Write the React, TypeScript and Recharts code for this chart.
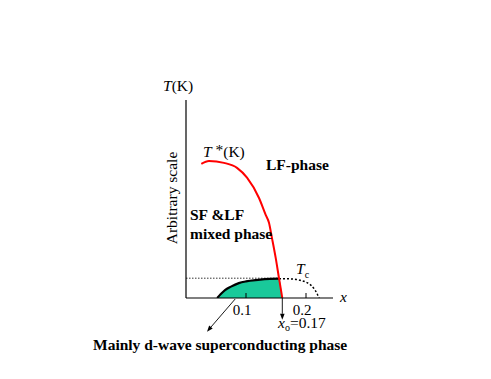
import { ComposedChart, XAxis, YAxis, Line, Area, ReferenceLine } from 'recharts';

// phase diagram: doping x vs temperature (arbitrary scale)
const xTicks = [0.1, 0.2];
const yTicks = [1, 2, 3, 4];

const pseudogap = [
  { x: 0.0255, y: 2.71 },
  { x: 0.0383, y: 2.77 },
  { x: 0.0633, y: 2.73 },
  { x: 0.085, y: 2.63 },
  { x: 0.1017, y: 2.43 },
  { x: 0.1217, y: 2.02 },
  { x: 0.1328, y: 1.68 },
  { x: 0.1383, y: 1.52 },
  { x: 0.1433, y: 1.21 },
  { x: 0.1495, y: 0.81 },
  { x: 0.155, y: 0.4 },
  { x: 0.1605, y: 0 },
];

const tcSolid = [
  { x: 0.052, y: 0 },
  { x: 0.058, y: 0.08 },
  { x: 0.065, y: 0.16 },
  { x: 0.075, y: 0.23 },
  { x: 0.088, y: 0.3 },
  { x: 0.1, y: 0.335 },
  { x: 0.12, y: 0.365 },
  { x: 0.14, y: 0.385 },
  { x: 0.155, y: 0.39 },
];

const scRegion = [...tcSolid, { x: 0.1605, y: 0 }];

const tcDotted = [
  { x: 0.155, y: 0.39 },
  { x: 0.175, y: 0.385 },
  { x: 0.19, y: 0.36 },
  { x: 0.2, y: 0.32 },
  { x: 0.208, y: 0.26 },
  { x: 0.215, y: 0.16 },
  { x: 0.222, y: 0 },
];

const tcLevel = 0.4;
const xo = 0.1605;

const serif = '"Liberation Serif", "Times New Roman", serif';

const XTick = (props: any) => {
  const { x, y, payload } = props;
  return (
    <g>
      <line x1={x} x2={x} y1={y - 8} y2={y - 13} stroke="#000" strokeWidth={1} />
      <text x={x - 4} y={y + 9} textAnchor="middle" fontFamily={serif} fontSize={15} fill="#000">
        {payload.value}
      </text>
    </g>
  );
};

const Arrow = (p: any) => {
  const { x1, y1, x2, y2 } = p;
  const a = Math.atan2(y2 - y1, x2 - x1);
  const len = 6;
  const w = 2.3;
  const bx = x2 - len * Math.cos(a);
  const by = y2 - len * Math.sin(a);
  const pts = `${x2},${y2} ${bx - w * Math.sin(a)},${by + w * Math.cos(a)} ${bx + w * Math.sin(a)},${by - w * Math.cos(a)}`;
  return (
    <g>
      <line x1={x1} y1={y1} x2={bx} y2={by} stroke="#000" strokeWidth={0.9} />
      <polygon points={pts} fill="#000" />
    </g>
  );
};

export default function App() {
  return (
    <div style={{ position: 'absolute', left: 0, top: 0, width: 491, height: 379, background: '#fff' }}>
      <ComposedChart width={491} height={379} margin={{ top: 100, right: 158, bottom: 51, left: 186 }}>
        <XAxis
          dataKey="x"
          type="number"
          domain={[0, 0.245]}
          allowDataOverflow
          ticks={xTicks}
          tickSize={0}
          tickMargin={8}
          tickLine={false}
          height={30}
          axisLine={{ stroke: '#000', strokeWidth: 1.2 }}
          tick={<XTick />}
        />
        <YAxis
          type="number"
          domain={[0, 4]}
          allowDataOverflow
          ticks={yTicks}
          mirror
          tick={false}
          tickSize={6}
          axisLine={{ stroke: '#000', strokeWidth: 1.2 }}
          tickLine={{ stroke: '#000', strokeWidth: 1 }}
        />
        <Area
          data={scRegion}
          dataKey="y"
          type="monotone"
          stroke="none"
          fill="#19c99a"
          fillOpacity={1}
          isAnimationActive={false}
        />
        <ReferenceLine
          segment={[{ x: 0, y: tcLevel }, { x: 0.153, y: tcLevel }]}
          stroke="#000"
          strokeWidth={0.8}
          strokeDasharray="1.5 1.5"
        />
        <Line
          data={tcSolid}
          dataKey="y"
          type="monotone"
          stroke="#000"
          strokeWidth={2.2}
          dot={false}
          isAnimationActive={false}
        />
        <Line
          data={tcDotted}
          dataKey="y"
          type="monotone"
          stroke="#000"
          strokeWidth={1.5}
          strokeDasharray="2 2"
          dot={false}
          isAnimationActive={false}
        />
        <Line
          data={pseudogap}
          dataKey="y"
          type="monotone"
          stroke="#ff0000"
          strokeWidth={2}
          dot={false}
          isAnimationActive={false}
        />
        <ReferenceLine
          segment={[{ x: xo, y: 0 }, { x: xo, y: -0.44 }]}
          ifOverflow="visible"
          shape={<Arrow />}
        />
        <ReferenceLine
          segment={[{ x: 0.082, y: -0.02 }, { x: 0.035, y: -0.68 }]}
          ifOverflow="visible"
          shape={<Arrow />}
        />
      </ComposedChart>
      <svg
        width={491}
        height={379}
        style={{ position: 'absolute', left: 0, top: 0, pointerEvents: 'none' }}
        fontFamily={serif}
        fill="#000"
      >
        <text x={163} y={91} fontSize={15.5}>
          <tspan fontStyle="italic">T</tspan>(K)
        </text>
        <text x={177} y={198} fontSize={15.5} textAnchor="middle" transform="rotate(-90 177 198)">
          Arbitrary scale
        </text>
        <text x={203} y={157} fontSize={15.5}>
          <tspan fontStyle="italic">T</tspan>
          <tspan dy={-2}> *</tspan>
          <tspan dy={2}>(K)</tspan>
        </text>
        <text x={266} y={170} fontSize={15.5} fontWeight="bold">LF-phase</text>
        <text x={190} y={220} fontSize={15.5} fontWeight="bold">SF &amp;LF</text>
        <text x={190} y={239} fontSize={15.5} fontWeight="bold">mixed phase</text>
        <text x={296} y={274} fontSize={15.5}>
          <tspan fontStyle="italic">T</tspan>
          <tspan fontSize={10} dy={4}>c</tspan>
        </text>
        <text x={340} y={302} fontSize={15.5} fontStyle="italic">x</text>
        <text x={278} y={328} fontSize={15.5}>
          <tspan fontStyle="italic">x</tspan>
          <tspan fontSize={10} dy={3}>o</tspan>
          <tspan dy={-3}>=0.17</tspan>
        </text>
        <text x={93} y={350} fontSize={15.5} fontWeight="bold">Mainly d-wave superconducting phase</text>
      </svg>
    </div>
  );
}
